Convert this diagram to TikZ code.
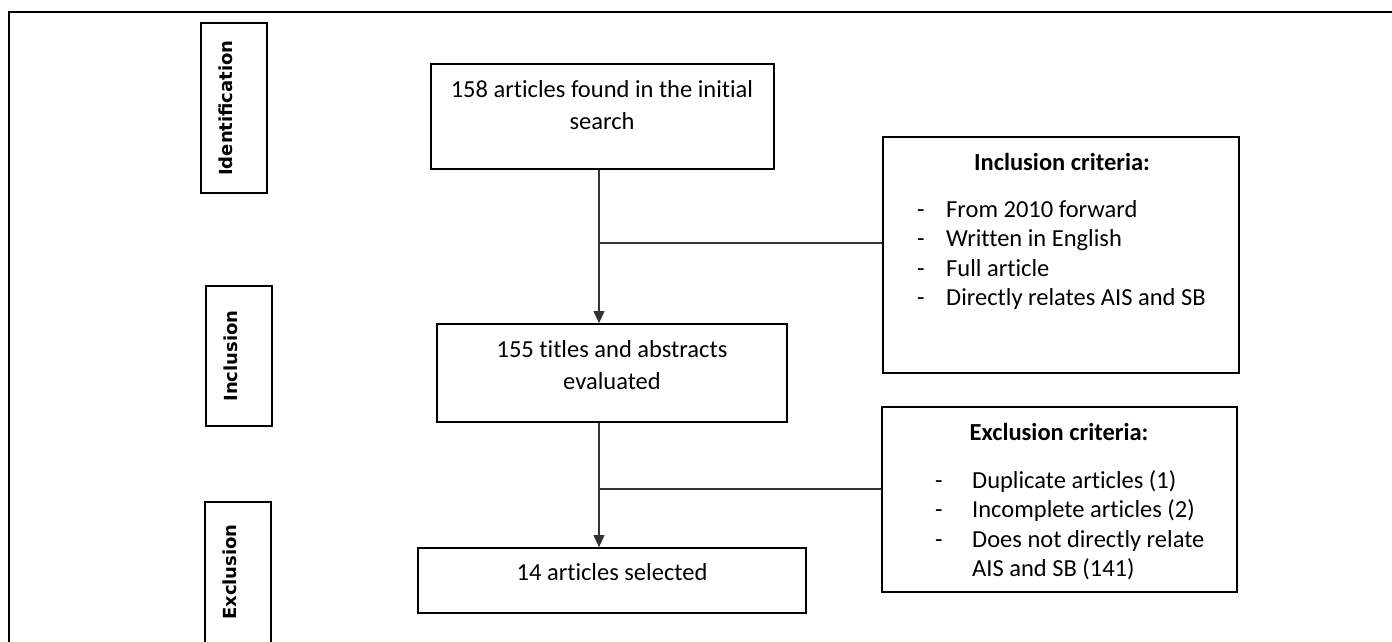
\documentclass[tikz,border=0pt]{standalone}
\usepackage{fontspec}
\setmainfont{Carlito}[RawFeature=-liga]
\newfontfamily\labfont{DejaVu Sans}
\usetikzlibrary{arrows.meta}
\begin{document}
\begin{tikzpicture}[x=1pt,y=-1pt,
  box/.style={draw=black, line width=1.8pt, inner sep=0pt},
  sidebox/.style={draw=black, line width=1.8pt, inner sep=0pt, minimum width=66pt},
  sidelab/.style={rotate=90, font=\labfont\bfseries\fontsize{18}{20}\selectfont},
  txt/.style={font=\fontsize{24.5}{32}\selectfont, align=center, inner sep=0pt},
  lst/.style={font=\fontsize{24.5}{29.6}\selectfont, inner sep=0pt, anchor=base west},
  hd/.style={font=\bfseries\fontsize{24.5}{30}\selectfont, inner sep=0pt, anchor=base},
  conn/.style={draw=black!80, line width=1.1pt},
  arr/.style={conn, -{Triangle[length=12pt,width=11pt]}}]
\useasboundingbox (0,0) rectangle (1392,642);
\fill[white] (0,0) rectangle (1392,642);
% outer frame (open to the right and bottom)
\draw[line width=1.5pt] (9,650) -- (9,12) -- (1400,12);

% side labels
\node[sidebox, minimum height=170pt] (idbox) at (234,108) {};
\node[sidelab] (idlab) at (226,108) {Identification};
\node[sidebox, minimum height=140pt] (inbox) at (239,356) {};
\node[sidelab] (inlab) at (231,356) {Inclusion};
\node[sidebox, minimum height=150pt] (exbox) at (238,577) {};
\node[sidelab] (exlab) at (230,572) {Exclusion};

% main boxes
\node[box, minimum width=343pt, minimum height=105pt] (b1) at (602.5,116.5) {};
\node[txt] (t1) at (602,105) {158 articles found in the initial\\search};
\node[box, minimum width=350pt, minimum height=98pt] (b2) at (612,373) {};
\node[txt] (t2) at (612,365) {155 titles and abstracts\\evaluated};
\node[box, minimum width=388pt, minimum height=65pt] (b3) at (612,580.5) {};
\node[txt] (t3) at (612,572) {14 articles selected};

% criteria boxes
\node[box, minimum width=356pt, minimum height=236pt] (c1) at (1061,255) {};
\node[hd] (c1h) at (1062,170) {Inclusion criteria:};
\node[lst] (c1l) at (917,217) {\begin{tabular}[t]{@{}p{29pt}@{}l@{}}
-& From 2010 forward\\
-& Written in English\\
-& Full article\\
-& Directly relates AIS and SB
\end{tabular}};
\node[box, minimum width=355pt, minimum height=185pt] (c2) at (1059.5,499.5) {};
\node[hd] (c2h) at (1059,440) {Exclusion criteria:};
\node[lst] (c2l) at (935,488) {\begin{tabular}[t]{@{}p{37pt}@{}l@{}}
-& Duplicate articles (1)\\
-& Incomplete articles (2)\\
-& Does not directly relate\\
 & AIS and SB (141)
\end{tabular}};

% connectors
\coordinate (j1) at (599,243);
\coordinate (j2) at (599,489);
\draw[arr] (b1.south -| j1) -- (b2.north -| j1);
\draw[arr] (b2.south -| j2) -- (b3.north -| j2);
\draw[conn] (j1) -- (c1.west |- j1);
\draw[conn] (j2) -- (c2.west |- j2);
\end{tikzpicture}
\end{document}
